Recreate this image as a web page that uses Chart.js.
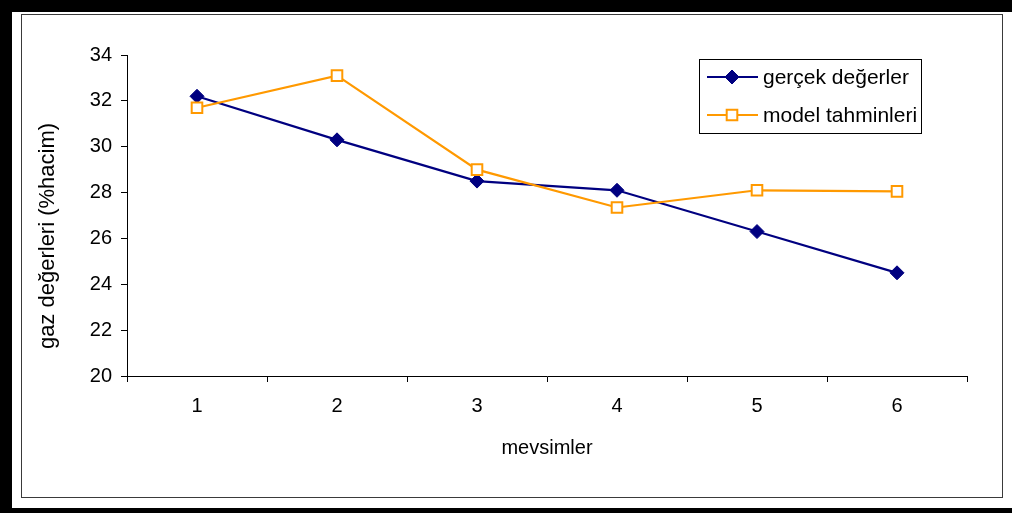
<!DOCTYPE html>
<html>
<head>
<meta charset="utf-8">
<script src="https://cdn.jsdelivr.net/npm/chart.js@4/dist/chart.umd.min.js"></script>
<style>
  html, body { margin: 0; padding: 0; background: #ffffff; }
  #wrap { width: 1012px; height: 513px; }
</style>
</head>
<body>
<div id="wrap"><canvas id="c" width="1012" height="513"></canvas></div>
<script>
// Seasonal gas measurements vs. model estimates
const categories = ['1', '2', '3', '4', '5', '6'];
const gercekDegerler = [32.2, 30.3, 28.5, 28.1, 26.3, 24.5];
const modelTahminleri = [31.7, 33.1, 29.0, 27.35, 28.1, 28.05];
const seriesNames = ['gerçek değerler', 'model tahminleri'];
const yTicks = [20, 22, 24, 26, 28, 30, 32, 34];
const xTitle = 'mevsimler';
const yTitle = 'gaz değerleri (%hacim)';

const FONT = "'Liberation Sans', Arial, sans-serif";
const NAVY = '#000080';
const ORANGE = '#FF9900';

// Frame: heavy black edge on left/top/bottom plus thin inner box
const framePlugin = {
  id: 'frame',
  beforeDraw(chart) {
    const ctx = chart.ctx;
    ctx.save();
    ctx.fillStyle = '#ffffff';
    ctx.fillRect(0, 0, chart.width, chart.height);
    ctx.fillStyle = '#000000';
    ctx.fillRect(0, 0, 12, chart.height);
    ctx.fillRect(0, 0, chart.width, 12);
    ctx.fillRect(0, 508, chart.width, chart.height - 508);
    ctx.strokeStyle = '#3a3a3a';
    ctx.lineWidth = 1;
    ctx.strokeRect(21.5, 14.5, 981, 483);
    ctx.restore();
  }
};

// Vertical axis title, set a little below the axis midpoint
const yTitlePlugin = {
  id: 'yTitle',
  afterDraw(chart) {
    const ctx = chart.ctx;
    ctx.save();
    ctx.translate(48, 236);
    ctx.rotate(-Math.PI / 2);
    ctx.fillStyle = '#000000';
    ctx.font = '22px ' + FONT;
    ctx.textAlign = 'center';
    ctx.textBaseline = 'middle';
    ctx.fillText(yTitle, 0, 0);
    ctx.restore();
  }
};

// Boxed legend inside the plot, built from the dataset styles
const boxLegend = {
  id: 'boxLegend',
  afterDraw(chart) {
    const ctx = chart.ctx;
    const x0 = 699, y0 = 59, w = 222, h = 74;
    ctx.save();
    ctx.fillStyle = '#ffffff';
    ctx.fillRect(x0, y0, w, h);
    ctx.strokeStyle = '#000000';
    ctx.lineWidth = 1;
    ctx.strokeRect(x0 + 0.5, y0 + 0.5, w, h);
    const rows = [77, 115];
    chart.data.datasets.forEach((ds, i) => {
      const y = rows[i];
      ctx.strokeStyle = ds.borderColor;
      ctx.lineWidth = ds.borderWidth;
      ctx.beginPath();
      ctx.moveTo(707, y);
      ctx.lineTo(758, y);
      ctx.stroke();
      ctx.fillStyle = ds.pointBackgroundColor;
      ctx.strokeStyle = ds.pointBorderColor;
      ctx.lineWidth = ds.pointBorderWidth;
      ctx.beginPath();
      if (ds.pointStyle === 'rectRot') {
        const r = ds.pointRadius;
        ctx.moveTo(732, y - r); ctx.lineTo(732 + r, y);
        ctx.lineTo(732, y + r); ctx.lineTo(732 - r, y);
      } else {
        const s = ds.pointRadius * Math.SQRT1_2;
        ctx.rect(732 - s, y - s, 2 * s, 2 * s);
      }
      ctx.closePath();
      ctx.fill();
      ctx.stroke();
      ctx.fillStyle = '#000000';
      ctx.font = '21px ' + FONT;
      ctx.textBaseline = 'middle';
      ctx.textAlign = 'left';
      ctx.fillText(ds.label, 763, y + 1);
    });
    ctx.restore();
  }
};

new Chart(document.getElementById('c'), {
  type: 'line',
  data: {
    labels: categories,
    datasets: [
      {
        label: seriesNames[0],
        data: gercekDegerler,
        borderColor: NAVY,
        backgroundColor: NAVY,
        borderWidth: 2.2,
        pointStyle: 'rectRot',
        pointRadius: 7,
        pointBackgroundColor: NAVY,
        pointBorderColor: NAVY,
        pointBorderWidth: 1,
        tension: 0,
        order: 1
      },
      {
        label: seriesNames[1],
        data: modelTahminleri,
        borderColor: ORANGE,
        backgroundColor: ORANGE,
        borderWidth: 2.2,
        pointStyle: 'rect',
        pointRadius: 7.5,
        pointBackgroundColor: '#ffffff',
        pointBorderColor: ORANGE,
        pointBorderWidth: 2,
        tension: 0,
        order: 0
      }
    ]
  },
  options: {
    responsive: false,
    animation: false,
    devicePixelRatio: 1,
    layout: { padding: { left: 30, top: 55, right: 45, bottom: 53 } },
    plugins: {
      legend: { display: false },
      tooltip: { enabled: false }
    },
    scales: {
      x: {
        type: 'category',
        offset: true,
        grid: {
          offset: true,
          drawOnChartArea: false,
          drawTicks: true,
          tickLength: 6,
          color: '#000000',
          lineWidth: 1
        },
        border: { display: true, color: '#000000', width: 1 },
        ticks: {
          color: '#000000',
          font: { family: FONT, size: 20 },
          padding: 12,
          maxRotation: 0
        },
        title: {
          display: true,
          text: xTitle,
          color: '#000000',
          font: { family: FONT, size: 20 },
          padding: { top: 0, bottom: 0 }
        },
        afterFit(scale) { scale.height = 84; }
      },
      y: {
        min: 20,
        max: 34,
        afterBuildTicks(scale) { scale.ticks = yTicks.map(v => ({ value: v })); },
        grid: {
          drawOnChartArea: false,
          drawTicks: true,
          tickLength: 6,
          color: '#000000',
          lineWidth: 1
        },
        border: { display: true, color: '#000000', width: 1 },
        ticks: {
          color: '#000000',
          font: { family: FONT, size: 20 },
          padding: 9
        },
        title: { display: false },
        afterFit(scale) { scale.width = 97; }
      }
    }
  },
  plugins: [framePlugin, yTitlePlugin, boxLegend]
});
</script>
</body>
</html>
